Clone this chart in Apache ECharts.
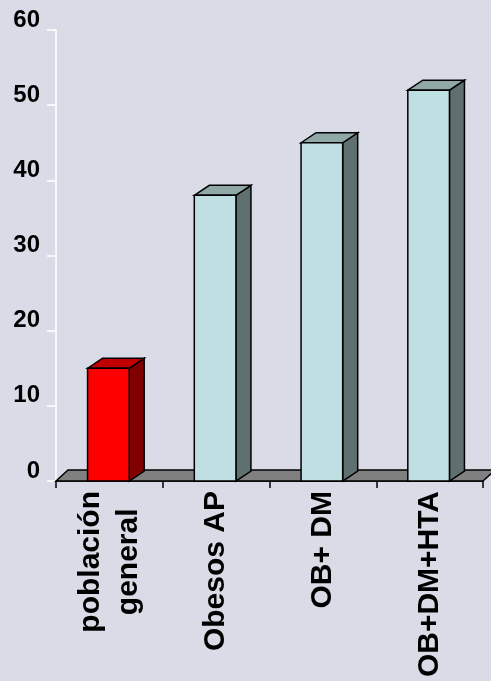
<!DOCTYPE html>
<html>
<head>
<meta charset="utf-8">
<script src="https://cdn.jsdelivr.net/npm/echarts@6/dist/echarts.min.js"></script>
<style>
html,body{margin:0;padding:0;background:#d9dce7;}
#chart{width:491px;height:681px;}
</style>
</head>
<body>
<div id="chart"></div>
<script>
const categories = ['población\ngeneral', 'Obesos AP', 'OB+ DM', 'OB+DM+HTA'];
const values = [15, 38, 45, 52];
const yTicks = [0, 10, 20, 30, 40, 50, 60];

const FONT = '"Liberation Sans", Arial, sans-serif';
const palette = [
  { front: '#ff0000', top: '#c00000', side: '#800000' },
  { front: '#c0dfe3', top: '#90a8a8', side: '#607070' },
  { front: '#c0dfe3', top: '#90a8a8', side: '#607070' },
  { front: '#c0dfe3', top: '#90a8a8', side: '#607070' }
];
const DX = 15, DY = 10, FDX = 12, FDY = 11;

const chart = echarts.init(document.getElementById('chart'));
chart.setOption({
  backgroundColor: '#d9dce7',
  animation: false,
  grid: { left: 56, right: 8, top: 30, bottom: 200 },
  xAxis: {
    type: 'category',
    data: categories,
    boundaryGap: true,
    axisLine: { show: true, lineStyle: { color: '#000', width: 1.5 } },
    axisTick: { show: true, length: 7, lineStyle: { color: '#000', width: 1.5 } },
    axisLabel: {
      rotate: 90,
      interval: 0,
      margin: 10,
      color: '#000',
      fontFamily: FONT,
      fontWeight: 'bold',
      fontSize: 30,
      formatter: function (v) {
        return v.split('\n').map(function (s) { return '{c|' + s + '}'; }).join('\n');
      },
      rich: {
        c: { align: 'center', fontFamily: FONT, fontWeight: 'bold', fontSize: 30, lineHeight: 38, color: '#000' }
      }
    }
  },
  yAxis: {
    type: 'value',
    min: yTicks[0],
    max: yTicks[yTicks.length - 1],
    interval: yTicks[1] - yTicks[0],
    axisLine: { show: true, lineStyle: { color: '#ffffff', width: 1.5 } },
    axisTick: { show: true, length: 9, lineStyle: { color: '#ffffff', width: 1.5 } },
    splitLine: { show: false },
    axisLabel: {
      margin: 16,
      color: '#000',
      fontFamily: FONT,
      fontWeight: 'bold',
      fontSize: 24,
      verticalAlign: 'bottom',
      lineHeight: 20
    }
  },
  series: [
    {
      type: 'custom',
      z: 1,
      data: [[0, 0]],
      renderItem: function (params, api) {
        const cs = params.coordSys;
        const yb = api.coord([0, 0])[1];
        return {
          type: 'polygon',
          shape: { points: [[cs.x, yb], [cs.x + FDX, yb - FDY], [cs.x + cs.width + FDX, yb - FDY], [cs.x + cs.width, yb]] },
          style: { fill: '#808080', stroke: '#000', lineWidth: 1.5 }
        };
      }
    },
    {
      type: 'custom',
      z: 2,
      data: values.map(function (v, i) { return [i, v]; }),
      renderItem: function (params, api) {
        const i = api.value(0), v = api.value(1);
        const t = api.coord([i, v]);
        const b = api.coord([i, 0]);
        const bw = api.size([1, 0])[0] * 0.39;
        const x0 = t[0] - bw / 2 - 1, x1 = x0 + bw;
        const yt = t[1], yb = b[1];
        const c = palette[i];
        const st = { stroke: '#000', lineWidth: 1.5 };
        return {
          type: 'group',
          children: [
            { type: 'polygon', shape: { points: [[x1, yt], [x1 + DX, yt - DY], [x1 + DX, yb - DY], [x1, yb]] }, style: Object.assign({ fill: c.side }, st) },
            { type: 'polygon', shape: { points: [[x0, yt], [x0 + DX, yt - DY], [x1 + DX, yt - DY], [x1, yt]] }, style: Object.assign({ fill: c.top }, st) },
            { type: 'rect', shape: { x: x0, y: yt, width: bw, height: yb - yt }, style: Object.assign({ fill: c.front }, st) }
          ]
        };
      }
    }
  ]
});
</script>
</body>
</html>
